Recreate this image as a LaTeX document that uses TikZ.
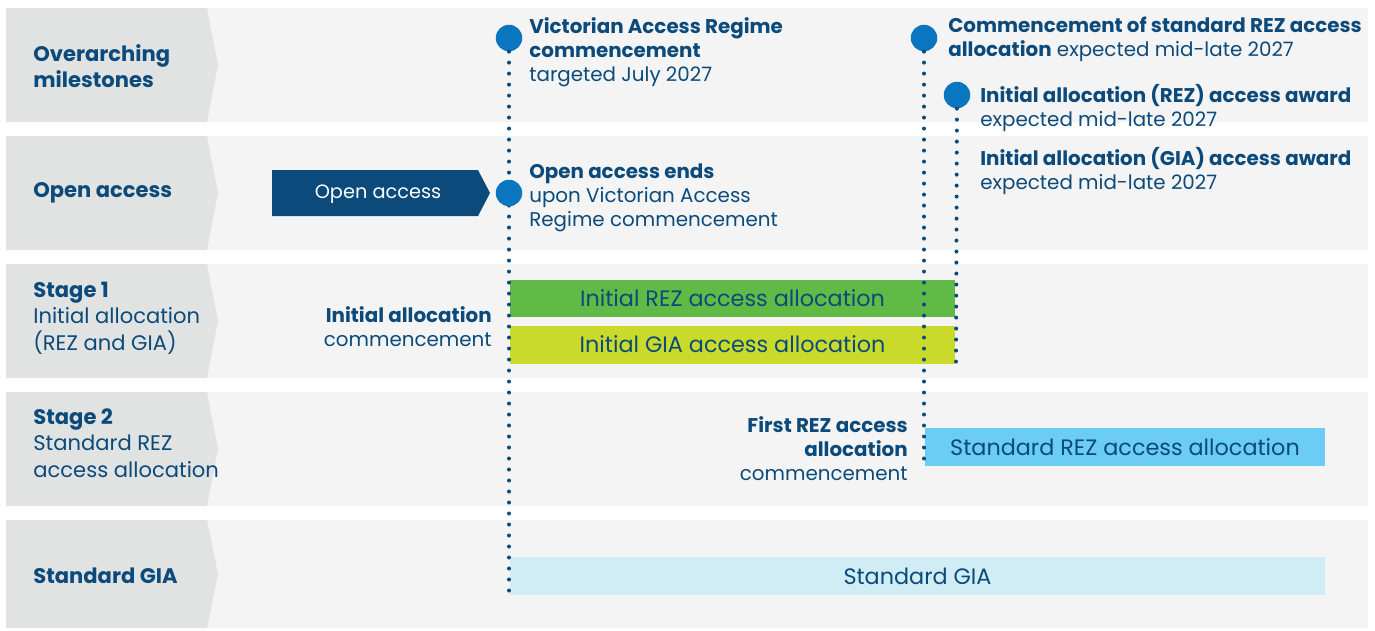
\documentclass[tikz,border=0pt]{standalone}
\usepackage{fontspec}
\setmainfont{Poppins}
\definecolor{navy}{HTML}{0B4A7B}
\definecolor{dotblue}{HTML}{0A76BF}
\definecolor{chevgray}{HTML}{E1E3E2}
\definecolor{bandgray}{HTML}{F4F4F4}
\definecolor{rezgreen}{HTML}{62BA46}
\definecolor{gialime}{HTML}{C9DA2A}
\definecolor{rezsky}{HTML}{6BCDF4}
\definecolor{giapale}{HTML}{D0ECF4}

\begin{document}
\begin{tikzpicture}[x=0.02cm,y=-0.02cm]
\tikzstyle{lab}=[text=navy,font=\fontsize{12}{15.2}\selectfont,align=left,anchor=west,inner sep=0]
\tikzstyle{txt}=[text=navy,font=\fontsize{11.3}{13.6}\selectfont,align=left,anchor=west,inner sep=0]
\tikzstyle{txtr}=[text=navy,font=\fontsize{11.3}{13.6}\selectfont,align=right,anchor=east,inner sep=0]
\tikzstyle{bar}=[text=navy,font=\fontsize{12.7}{14}\selectfont,inner sep=0]
\tikzstyle{dot}=[circle,fill=dotblue,inner sep=0,minimum size=0.53cm]
\tikzstyle{dots}=[navy,line width=0.08cm,line cap=round,dash pattern=on 0pt off 0.22cm]
\useasboundingbox (0,0) rectangle (1375,630);

% rows
\fill[bandgray] (6,8) rectangle (1368,122);
\fill[chevgray] (6,8) -- (207,8) -- (218,65) -- (207,122) -- (6,122) -- cycle;
\fill[bandgray] (6,136) rectangle (1368,250);
\fill[chevgray] (6,136) -- (207,136) -- (218,193) -- (207,250) -- (6,250) -- cycle;
\fill[bandgray] (6,264) rectangle (1368,378);
\fill[chevgray] (6,264) -- (207,264) -- (218,321) -- (207,378) -- (6,378) -- cycle;
\fill[bandgray] (6,392) rectangle (1368,506);
\fill[chevgray] (6,392) -- (207,392) -- (218,449) -- (207,506) -- (6,506) -- cycle;
\fill[bandgray] (6,520) rectangle (1368,628);
\fill[chevgray] (6,520) -- (207,520) -- (218,574) -- (207,628) -- (6,628) -- cycle;

\node (1) at (33,66) [lab]{\textbf{Overarching}\\\textbf{milestones}};
\node (2) at (33,193) [lab]{\textbf{Open access}};
\node (3) at (33,318) [lab]{\textbf{Stage 1}\\Initial allocation\\(REZ and GIA)};
\node (4) at (33,443) [lab]{\textbf{Stage 2}\\Standard REZ\\access allocation};
\node (5) at (33,576) [lab]{\textbf{Standard GIA}};

% open access arrow
\fill[navy] (272,170) -- (478,170) -- (490,193) -- (478,216) -- (272,216) -- cycle;
\node (6) at (378,194) [bar,text=white,font=\fontsize{11}{13}\selectfont]{Open access};

\node (18) at (732.5,298) [bar,fill=rezgreen,minimum width=8.9cm,minimum height=0.74cm]{Initial REZ access allocation};
\node (19) at (732.5,344.5) [bar,fill=gialime,minimum width=8.9cm,minimum height=0.76cm]{Initial GIA access allocation};
\node (20) at (1125,447) [bar,fill=rezsky,minimum width=8.0cm,minimum height=0.76cm]{Standard REZ access allocation};
\node (21) at (917.5,576) [bar,fill=giapale,minimum width=16.3cm,minimum height=0.76cm]{Standard GIA};

% milestones
\node (7) at (509,38) [dot]{};
\coordinate (7e) at (509,594);
\draw[dots] (7) -- (7e);
\node (8) at (509,193) [dot]{};
\node (9) at (924,38) [dot]{};
\coordinate (9e) at (924,463);
\draw[dots] (9) -- (9e);
\node (10) at (957,95) [dot]{};
\coordinate (10e) at (956,363);
\draw[dots] (10) -- (10e);

\node (11) at (529,52) [txt]{\textbf{Victorian Access Regime}\\\textbf{commencement}\\targeted July 2027};
\node (12) at (529,198) [txt]{\textbf{Open access ends}\\upon Victorian Access\\Regime commencement};
\node (13) at (948,39) [txt]{\textbf{Commencement of standard REZ access}\\\textbf{allocation} expected mid-late 2027};
\node (14) at (980,108) [txt]{\textbf{Initial allocation (REZ) access award}\\expected mid-late 2027};
\node (15) at (980,171) [txt]{\textbf{Initial allocation (GIA) access award}\\expected mid-late 2027};
\node (16) at (492,327) [txtr]{\textbf{Initial allocation}\\commencement};
\node (17) at (908,449) [txtr]{\textbf{First REZ access}\\\textbf{allocation}\\commencement};
\end{tikzpicture}
\end{document}
